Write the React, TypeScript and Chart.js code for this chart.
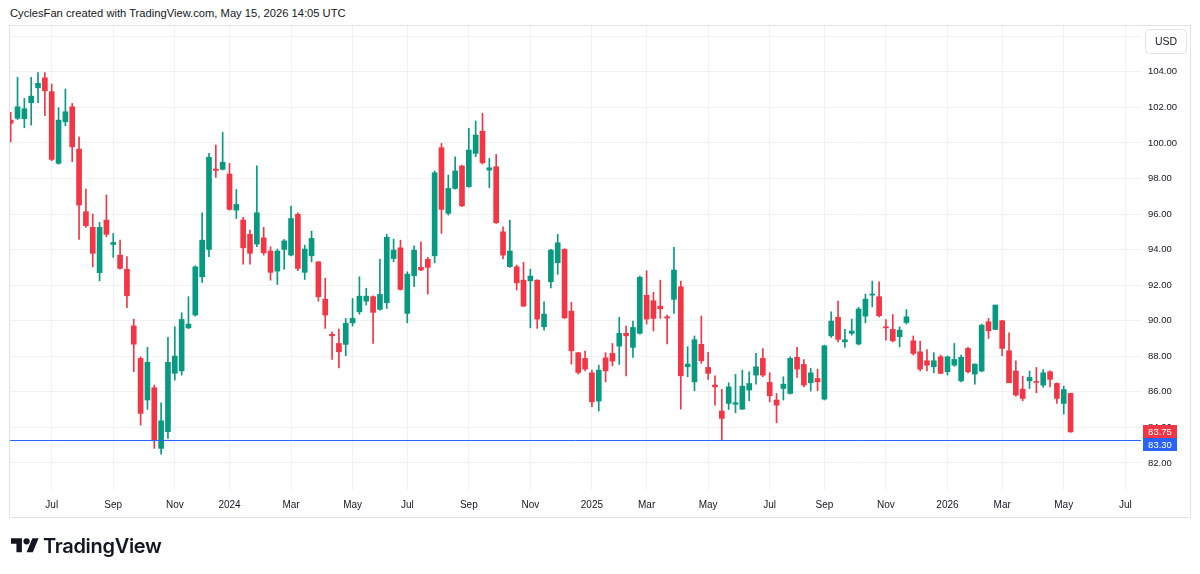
import React, { useEffect, useRef } from 'react';
import { Chart, registerables } from 'chart.js';

Chart.register(...registerables);

// Weekly candles. Week index 0 is the week of 3 Jul 2023; the first candle is six weeks earlier.
const FIRST_WEEK = -6;

const opens = [
  101.28, 101.38, 101.36, 102.26, 103.1, 103.66,
  102.88, 98.85, 101.19, 102.03, 99.65, 96.13, 95.25, 92.7, 95.66, 94.29,
  93.69, 92.89, 89.71, 87.88, 85.54, 86.23, 82.82, 83.76, 87.04, 87.18,
  89.6, 90.32, 92.47, 94.01, 98.53, 98.51, 98.25, 96.22, 95.66, 94.86,
  94.31, 94.66, 93.92, 92.79, 94.01, 93.69, 95.98, 92.72, 93.65, 93.31,
  91.21, 89.24, 88.72, 88.67, 89.88, 90.5, 91.1, 91.35, 90.64, 91.01,
  93.5, 94.1, 90.41, 92.53, 93.0, 93.45, 93.65, 99.73, 96.04, 97.44,
  98.7, 97.54, 99.41, 100.66, 98.47, 98.66, 95.0, 93.04, 93.03, 92.28,
  92.24, 92.28, 89.66, 92.19, 93.26, 94.01, 90.54, 88.2, 87.88, 87.07,
  85.48, 87.91, 88.16, 88.57, 89.29, 88.5, 89.29, 91.43, 91.12, 90.82,
  90.22, 91.2, 91.91, 87.41, 86.56, 88.67, 87.37, 86.38, 84.92, 85.35,
  85.3, 85.03, 86.1, 86.94, 87.88, 86.53, 85.54, 86.19, 85.91, 87.94,
  87.54, 86.51, 86.75, 85.59, 89.15, 90.19, 88.81, 89.29, 88.69, 90.26,
  91.44, 91.35, 89.66, 89.51, 89.1, 89.9, 88.87, 88.25, 87.75, 87.41,
  87.97, 87.13, 87.5, 86.62, 88.44, 87.0, 87.17, 89.94, 89.51, 90.0,
  88.31, 87.17, 86.15, 86.62, 86.56, 86.38, 87.13, 86.47, 85.35, 85.91,
];

const highs = [
  101.72, 103.69, 102.5, 103.69, 103.96, 103.96,
  103.31, 101.98, 103.03, 102.22, 100.34, 97.4, 96.0, 95.53, 97.07, 94.91,
  94.53, 93.6, 90.09, 87.97, 88.5, 86.38, 85.38, 89.06, 89.66, 90.45,
  91.35, 93.09, 96.07, 99.41, 99.88, 100.59, 98.85, 97.38, 95.81, 95.1,
  98.71, 95.25, 94.16, 94.03, 94.57, 96.45, 96.07, 94.25, 95.04, 93.33,
  92.38, 89.38, 89.53, 90.13, 91.25, 92.47, 91.82, 91.4, 93.45, 94.86,
  94.59, 94.53, 92.75, 94.21, 94.44, 93.56, 98.42, 99.97, 98.19, 99.22,
  98.75, 100.82, 101.23, 101.66, 99.13, 99.35, 95.28, 95.66, 93.13, 93.28,
  92.9, 92.3, 91.06, 94.01, 94.86, 94.05, 91.03, 88.22, 88.29, 87.22,
  87.5, 88.2, 88.72, 90.19, 89.7, 89.98, 92.51, 92.81, 91.6, 92.28,
  90.32, 94.12, 92.23, 88.54, 89.14, 90.26, 88.22, 86.9, 86.14, 86.51,
  86.98, 87.22, 87.13, 88.16, 88.44, 87.07, 85.91, 86.85, 87.97, 88.5,
  87.82, 87.32, 87.28, 88.63, 90.5, 91.1, 89.51, 90.09, 90.75, 91.5,
  92.23, 92.19, 90.07, 90.35, 89.66, 90.63, 89.14, 88.85, 88.38, 88.2,
  88.07, 88.01, 88.72, 88.07, 88.5, 87.58, 89.81, 90.13, 90.88, 90.02,
  89.32, 87.75, 86.88, 87.17, 87.37, 87.26, 87.18, 86.51, 86.32, 85.93,
];

const lows = [
  100.06, 101.32, 100.85, 101.0, 102.26, 101.53,
  99.0, 98.8, 100.96, 98.94, 94.57, 95.25, 93.03, 92.24, 94.72, 93.56,
  92.9, 90.73, 87.13, 84.13, 85.01, 82.82, 82.5, 83.38, 86.66, 86.94,
  89.55, 90.26, 92.16, 93.6, 98.06, 98.48, 96.22, 95.75, 93.18, 93.18,
  94.16, 93.69, 92.28, 92.04, 92.89, 93.65, 92.81, 92.32, 93.31, 91.1,
  89.57, 87.82, 87.35, 88.03, 89.7, 90.37, 90.88, 88.72, 90.6, 90.69,
  93.31, 91.72, 89.88, 91.91, 92.81, 91.5, 93.26, 94.91, 95.94, 97.4,
  96.42, 97.5, 99.22, 98.81, 97.48, 95.47, 93.47, 93.0, 91.72, 90.8,
  89.6, 89.57, 89.47, 91.85, 92.61, 90.12, 87.56, 87.0, 87.18, 85.16,
  84.92, 86.56, 87.46, 87.54, 86.9, 87.94, 89.25, 89.81, 89.42, 90.13,
  88.69, 90.41, 85.03, 86.85, 86.06, 87.6, 86.7, 85.25, 83.3, 85.01,
  84.82, 85.0, 85.5, 86.43, 86.85, 85.44, 84.26, 85.54, 85.87, 86.81,
  86.28, 86.04, 86.06, 85.54, 89.06, 88.81, 88.5, 89.19, 88.63, 89.88,
  90.78, 90.22, 88.91, 88.81, 88.53, 89.81, 88.07, 87.18, 87.18, 87.07,
  87.02, 86.94, 87.44, 86.56, 87.07, 86.43, 87.13, 89.0, 89.49, 88.03,
  86.51, 85.76, 85.5, 86.19, 85.95, 86.25, 86.28, 85.35, 84.75, 83.72,
];

const closes = [
  101.1, 102.03, 101.92, 102.63, 103.35, 102.93,
  99.07, 101.28, 101.75, 99.78, 96.5, 95.34, 93.79, 95.25, 94.86, 94.4,
  92.94, 91.4, 88.68, 84.79, 87.66, 83.29, 84.37, 87.66, 88.01, 90.07,
  89.81, 93.03, 94.53, 99.19, 98.45, 98.91, 96.26, 96.54, 94.1, 93.79,
  96.07, 93.82, 92.72, 93.92, 94.49, 95.75, 92.94, 94.03, 94.63, 91.35,
  90.32, 89.15, 88.25, 89.85, 90.13, 91.38, 91.38, 90.47, 91.48, 94.69,
  93.97, 91.76, 92.62, 93.97, 92.85, 93.0, 98.32, 96.26, 97.44, 98.42,
  96.46, 99.6, 100.44, 98.88, 98.6, 95.51, 93.69, 93.92, 92.13, 90.82,
  92.51, 90.09, 90.37, 93.97, 94.38, 90.16, 88.31, 87.09, 87.28, 85.44,
  87.22, 87.18, 87.73, 89.29, 89.15, 89.62, 92.44, 90.09, 90.13, 90.67,
  90.15, 92.85, 86.9, 87.56, 88.93, 87.75, 87.04, 86.28, 84.51, 86.28,
  85.39, 86.32, 86.47, 87.41, 86.94, 85.78, 85.25, 86.43, 87.88, 87.28,
  86.38, 87.07, 86.56, 88.59, 89.98, 88.95, 88.93, 89.42, 90.66, 91.21,
  91.5, 90.28, 89.6, 88.87, 89.47, 90.22, 88.16, 87.28, 87.5, 87.75,
  87.04, 87.97, 87.82, 87.94, 87.13, 87.56, 89.75, 89.43, 90.88, 88.44,
  86.51, 85.82, 85.63, 86.81, 86.53, 87.07, 86.7, 85.63, 86.13, 83.75,
];

// First trading week of each labelled month, on the same week index
const monthWeeks = [0, 9, 18, 26, 35, 44, 52, 61, 70, 79, 87, 96, 105, 113, 122, 131, 139, 148, 157];
const monthLabels = ['Jul', 'Sep', 'Nov', '2024', 'Mar', 'May', 'Jul', 'Sep', 'Nov', '2025', 'Mar', 'May', 'Jul', 'Sep', 'Nov', '2026', 'Mar', 'May', 'Jul'];

const priceTicks = [82, 84, 86, 88, 90, 92, 94, 96, 98, 100, 102, 104, 106];

const lastPrice = 83.75;
const levelPrice = 83.3;

const UP = '#089981';
const DOWN = '#f23645';
const LEVEL = '#2962ff';
const TEXT = '#131722';
const GRID = '#f0f1f3';
const FRAME = '#e0e3eb';
const TICK_FONT = '"Liberation Sans", Arial, sans-serif';

const overlayPlugin = {
  id: 'overlay',
  afterDraw(chart: any) {
    const { ctx, chartArea, scales } = chart;
    const y = scales.y;
    ctx.save();

    // horizontal level at the marked low
    const ly = Math.round(y.getPixelForValue(levelPrice)) + 0.5;
    ctx.strokeStyle = LEVEL;
    ctx.lineWidth = 1;
    ctx.beginPath();
    ctx.moveTo(chartArea.left, ly);
    ctx.lineTo(chartArea.right, ly);
    ctx.stroke();

    // outer frame
    ctx.strokeStyle = FRAME;
    ctx.strokeRect(9.5, 25.5, 1181, 492);

    // price tags on the scale
    const tagX = 1143;
    const tagW = 34;
    const tagH = 13;
    const lastY = Math.round(y.getPixelForValue(lastPrice));
    const redTop = lastY - 7;
    const blueTop = redTop + tagH;
    ctx.font = '9.5px ' + TICK_FONT;
    ctx.textAlign = 'center';
    ctx.textBaseline = 'middle';
    ctx.fillStyle = DOWN;
    ctx.fillRect(tagX, redTop, tagW, tagH);
    ctx.fillStyle = '#ffffff';
    ctx.fillText(lastPrice.toFixed(2), tagX + tagW / 2, redTop + tagH / 2 + 0.5);
    ctx.fillStyle = LEVEL;
    ctx.fillRect(tagX, blueTop, tagW, tagH);
    ctx.fillStyle = '#ffffff';
    ctx.fillText(levelPrice.toFixed(2), tagX + tagW / 2, blueTop + tagH / 2 + 0.5);

    // currency box
    ctx.beginPath();
    ctx.roundRect(1145.5, 29.5, 41, 24, 4);
    ctx.fillStyle = '#ffffff';
    ctx.fill();
    ctx.strokeStyle = FRAME;
    ctx.stroke();
    ctx.fillStyle = TEXT;
    ctx.font = '10.5px ' + TICK_FONT;
    ctx.fillText('USD', 1166, 42);

    ctx.restore();
  },
};

function buildConfig(): any {
  const xs = opens.map((_, k) => k + FIRST_WEEK);
  const colors = opens.map((o, k) => (closes[k] >= o ? UP : DOWN));
  return {
    type: 'bar',
    data: {
      datasets: [
        {
          label: 'body',
          data: xs.map((x, k) => ({ x, y: [opens[k], closes[k]] })),
          backgroundColor: colors,
          borderWidth: 0,
          barThickness: 5,
          minBarLength: 1,
          grouped: false,
          order: 0,
        },
        {
          label: 'wick',
          data: xs.map((x, k) => ({ x, y: [lows[k], highs[k]] })),
          backgroundColor: colors,
          borderWidth: 0,
          barThickness: 1,
          grouped: false,
          order: 1,
        },
      ],
    },
    options: {
      animation: false,
      responsive: false,
      devicePixelRatio: 1,
      layout: { padding: { left: 10, top: 25, right: 9, bottom: 57 } },
      plugins: {
        legend: { display: false },
        tooltip: { enabled: false },
        title: { display: false },
      },
      scales: {
        x: {
          type: 'linear',
          min: -6.1,
          max: 159.3,
          offset: false,
          grid: { color: GRID, offset: false, drawTicks: false },
          border: { display: false },
          afterBuildTicks: (scale: any) => {
            scale.ticks = monthWeeks.map((w) => ({ value: w }));
          },
          afterFit: (scale: any) => {
            scale.height = 27;
          },
          ticks: {
            autoSkip: false,
            maxRotation: 0,
            padding: 9,
            color: TEXT,
            font: { family: TICK_FONT, size: 10 },
            callback: (value: number) => {
              const k = monthWeeks.indexOf(value);
              return k >= 0 ? monthLabels[k] : '';
            },
          },
        },
        y: {
          type: 'linear',
          position: 'right',
          min: 80.48,
          max: 106.63,
          grid: { color: GRID, drawTicks: false },
          border: { display: false },
          afterBuildTicks: (scale: any) => {
            scale.ticks = priceTicks.map((v) => ({ value: v }));
          },
          afterFit: (scale: any) => {
            scale.width = 50;
          },
          ticks: {
            padding: 7,
            color: TEXT,
            font: { family: TICK_FONT, size: 9.5 },
            callback: (value: number) => value.toFixed(2),
          },
        },
      },
    },
    plugins: [overlayPlugin],
  };
}

function TvLogo() {
  return (
    <svg width={28} height={22} viewBox="0 0 36 28" style={{ display: 'block' }}>
      <path d="M14 22H7V11H0V4h14v18zM28 22h-8l7.5-18h8L28 22z" fill={TEXT} />
      <circle cx={20} cy={8} r={4} fill={TEXT} />
    </svg>
  );
}

export default function App() {
  const canvasRef = useRef<HTMLCanvasElement>(null);

  useEffect(() => {
    const chart = new Chart(canvasRef.current as HTMLCanvasElement, buildConfig());
    return () => chart.destroy();
  }, []);

  return (
    <div
      style={{
        position: 'fixed',
        left: 0,
        top: 0,
        width: 1200,
        height: 574,
        background: '#ffffff',
        overflow: 'hidden',
      }}
    >
      <div
        style={{
          position: 'absolute',
          left: 10,
          top: 6,
          font: '11.2px "Liberation Sans", Arial, sans-serif',
          lineHeight: '14px',
          color: TEXT,
          whiteSpace: 'nowrap',
        }}
      >
        CyclesFan created with TradingView.com, May 15, 2026 14:05 UTC
      </div>
      <canvas
        ref={canvasRef}
        width={1200}
        height={574}
        style={{ position: 'absolute', left: 0, top: 0, width: 1200, height: 574 }}
      />
      <div
        style={{
          position: 'absolute',
          left: 11,
          top: 535,
          display: 'flex',
          alignItems: 'center',
          gap: 4,
          color: TEXT,
        }}
      >
        <TvLogo />
        <span style={{ font: '600 20px Inter, "Liberation Sans", sans-serif', lineHeight: '22px', letterSpacing: -0.3 }}>
          TradingView
        </span>
      </div>
    </div>
  );
}
